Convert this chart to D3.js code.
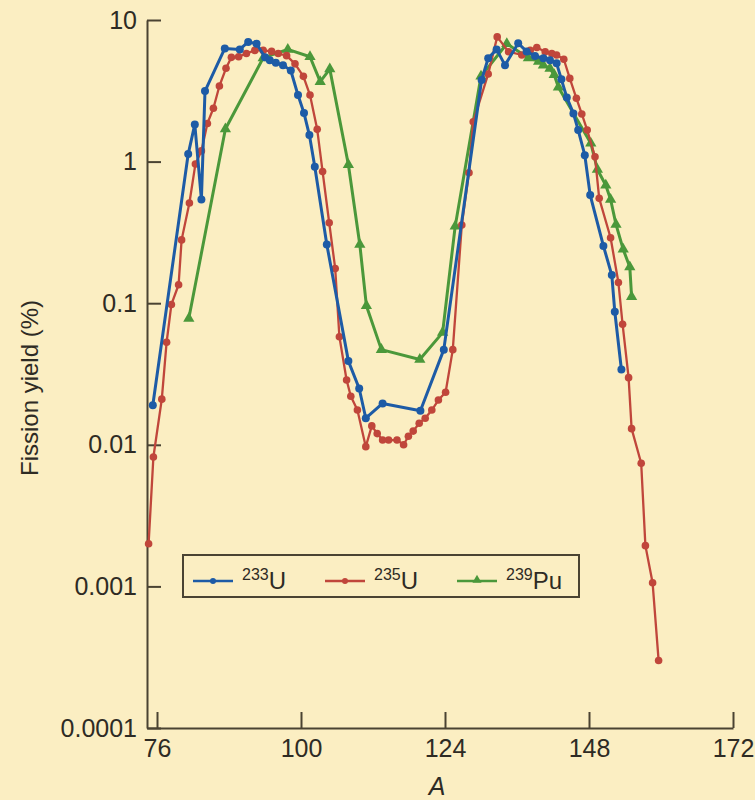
<!DOCTYPE html>
<html>
<head>
<meta charset="utf-8">
<script src="https://cdn.jsdelivr.net/npm/d3@7"></script>
<style>
  body { margin: 0; background: #fbeec2; }
  text { font-family: "Liberation Sans", Arial, sans-serif; fill: #2e2b24; }
</style>
</head>
<body>
<div id="chart-container"></div>
<script>

//Data: [mass number A, fission yield %]

const u233 = [[75.3,0.019],[81.2,1.13],[82.3,1.83],[83.4,0.54],[84.0,3.15],[87.3,6.3],[89.8,6.2],[91.2,7.0],[92.6,6.8],[94.0,5.45],[94.8,5.2],[95.8,5.0],[97.0,4.8],[98.3,4.4],[99.5,2.95],[100.5,2.2],[101.4,1.54],[102.3,0.92],[104.3,0.26],[107.9,0.039],[109.7,0.025],[110.8,0.0154],[113.6,0.0196],[119.9,0.0174],[123.8,0.047],[130.1,3.77],[131.2,5.37],[132.6,6.2],[134.0,4.8],[136.2,6.85],[137.6,6.0],[139.0,5.57],[140.4,5.37],[141.5,5.2],[142.6,4.94],[143.4,3.81],[144.3,2.84],[145.4,2.19],[146.2,1.67],[147.3,1.11],[148.2,0.58],[150.4,0.254],[151.8,0.158],[152.3,0.087],[153.4,0.034]];

const u235 = [[74.6,0.002],[75.4,0.0082],[76.8,0.021],[77.6,0.053],[78.4,0.098],[79.6,0.135],[80.1,0.28],[81.4,0.51],[82.4,0.96],[83.4,1.19],[84.4,1.86],[85.4,2.38],[86.4,3.42],[87.5,4.56],[88.4,5.45],[89.6,5.5],[90.9,5.8],[92.3,6.1],[93.7,6.1],[95.1,6.0],[96.2,5.8],[97.6,5.6],[99.0,4.9],[100.4,4.0],[101.5,2.95],[102.7,1.69],[103.6,0.85],[104.7,0.37],[105.7,0.176],[106.4,0.058],[107.6,0.0287],[108.3,0.022],[109.4,0.0176],[110.8,0.0097],[111.8,0.0136],[112.7,0.012],[113.6,0.0108],[114.6,0.0108],[116.0,0.0108],[117.1,0.0100],[117.9,0.0115],[118.7,0.0125],[119.7,0.0142],[120.7,0.0154],[121.8,0.0176],[122.9,0.0207],[124.1,0.0235],[125.3,0.047],[126.8,0.357],[128.0,0.835],[128.7,1.91],[131.2,4.16],[132.7,7.6],[134.6,5.97],[136.8,5.66],[138.2,6.1],[139.3,6.4],[140.7,5.97],[141.8,5.8],[142.6,5.66],[143.8,5.28],[144.8,3.87],[145.9,2.8],[146.8,2.17],[147.7,1.67],[149.0,1.08],[149.7,0.55],[151.6,0.29],[152.9,0.14],[153.6,0.071],[154.6,0.0298],[155.1,0.013],[156.7,0.0074],[157.4,0.00194],[158.6,0.00106],[159.6,0.0003]];

const pu239 = [[81.3,0.078],[87.4,1.7],[93.7,5.4],[97.8,6.2],[101.5,5.5],[103.2,3.67],[104.8,4.5],[107.9,0.95],[109.8,0.26],[110.9,0.096],[113.4,0.047],[119.8,0.040],[123.6,0.062],[125.7,0.35],[130.0,4.0],[134.3,6.8],[137.9,5.4],[139.6,5.1],[140.4,4.8],[141.5,4.55],[142.2,4.1],[142.9,3.35],[148.3,1.35],[149.4,0.88],[150.8,0.68],[151.6,0.54],[152.5,0.36],[153.7,0.24],[154.8,0.18],[155.1,0.111]];

const xTicks = [76, 100, 124, 148, 172];
const yTicks = [10, 1, 0.1, 0.01, 0.001, 0.0001];
const yTickLabels = ["10", "1", "0.1", "0.01", "0.001", "0.0001"];
const seriesNames = ["233", "235", "239"];
const seriesElems = ["U", "U", "Pu"];

//Chart size

const W = 755, H = 800;
const axisColor = "#4a4332";

const x = d3.scaleLinear()
    .domain([74.333, 172])
    .range([147, 733]);

const y = d3.scaleLog()
    .domain([0.0001, 10])
    .range([728, 20]);

const svg = d3.select("#chart-container")
    .append("svg")
        .attr("width", W)
        .attr("height", H);

svg.append("rect")
    .attr("width", W)
    .attr("height", H)
    .attr("fill", "#fbeec2");

//Axes

svg.append("g")
    .attr("transform", "translate(0,728)")
    .call(d3.axisBottom(x)
        .tickValues(xTicks)
        .tickSizeInner(-16)
        .tickSizeOuter(0)
        .tickPadding(11)
        .tickFormat(d3.format("d")))
    .call(g => g.selectAll("path, line").attr("stroke", axisColor).attr("stroke-width", 2))
    .selectAll(".tick text")
    .style("font-size", "25px")
    .style("fill", "#2e2b24");

svg.append("g")
    .attr("transform", "translate(147,0)")
    .call(d3.axisLeft(y)
        .tickValues(yTicks)
        .tickSizeInner(-14)
        .tickSizeOuter(0)
        .tickPadding(10)
        .tickFormat((d, i) => yTickLabels[i]))
    .call(g => g.selectAll("path, line").attr("stroke", axisColor).attr("stroke-width", 2))
    .selectAll(".tick text")
    .style("font-size", "25px")
    .style("fill", "#2e2b24");

//Axis labels

svg.append("text")
    .attr("x", 437)
    .attr("y", 795)
    .style("text-anchor", "middle")
    .style("font-size", "25px")
    .style("font-style", "italic")
    .text("A");

svg.append("text")
    .attr("transform", "translate(38,388) rotate(-90)")
    .style("text-anchor", "middle")
    .style("font-size", "24px")
    .text("Fission yield (%)");

//Lines and markers

const line = d3.line()
    .x(d => x(d[0]))
    .y(d => y(d[1]));

const series = [
    { data: u233, color: "#1d5ba6", width: 3, r: 4, shape: "circle" },
    { data: u235, color: "#c0463b", width: 2.3, r: 3.8, shape: "circle" },
    { data: pu239, color: "#4b983a", width: 3, r: 0, shape: "triangle" }
];

// draw green first, blue on top like the figure
[series[2], series[1], series[0]].forEach(s => {
    svg.append("path")
        .datum(s.data)
        .attr("fill", "none")
        .attr("stroke", s.color)
        .attr("stroke-width", s.width)
        .attr("stroke-linejoin", "round")
        .attr("d", line);

    if (s.shape === "circle") {
        svg.append("g")
            .selectAll("circle")
            .data(s.data)
            .join("circle")
            .attr("cx", d => x(d[0]))
            .attr("cy", d => y(d[1]))
            .attr("r", s.r)
            .attr("fill", s.color);
    } else {
        svg.append("g")
            .selectAll("path")
            .data(s.data)
            .join("path")
            .attr("transform", d => `translate(${x(d[0])},${y(d[1])})`)
            .attr("d", d3.symbol(d3.symbolTriangle, 55))
            .attr("fill", s.color);
    }
});

//Legend

const legend = svg.append("g");

legend.append("rect")
    .attr("x", 183)
    .attr("y", 555)
    .attr("width", 396)
    .attr("height", 42)
    .attr("fill", "#fbeec2")
    .attr("stroke", axisColor)
    .attr("stroke-width", 2);

const legendX = [193, 325, 457];

series.forEach((s, i) => {
    const lx = legendX[i];
    legend.append("line")
        .attr("x1", lx).attr("x2", lx + 40)
        .attr("y1", 581).attr("y2", 581)
        .attr("stroke", s.color)
        .attr("stroke-width", 2.5);
    if (s.shape === "circle") {
        legend.append("circle")
            .attr("cx", lx + 20).attr("cy", 581)
            .attr("r", 3)
            .attr("fill", s.color);
    } else {
        legend.append("path")
            .attr("transform", `translate(${lx + 20},580)`)
            .attr("d", d3.symbol(d3.symbolTriangle, 36))
            .attr("fill", s.color);
    }
    const t = legend.append("text")
        .attr("x", lx + 49)
        .attr("y", 589)
        .style("font-size", "24px");
    t.append("tspan")
        .attr("dy", "-9")
        .style("font-size", "16px")
        .text(seriesNames[i]);
    t.append("tspan")
        .attr("dy", "9")
        .text(seriesElems[i]);
});

</script>
</body>
</html>
